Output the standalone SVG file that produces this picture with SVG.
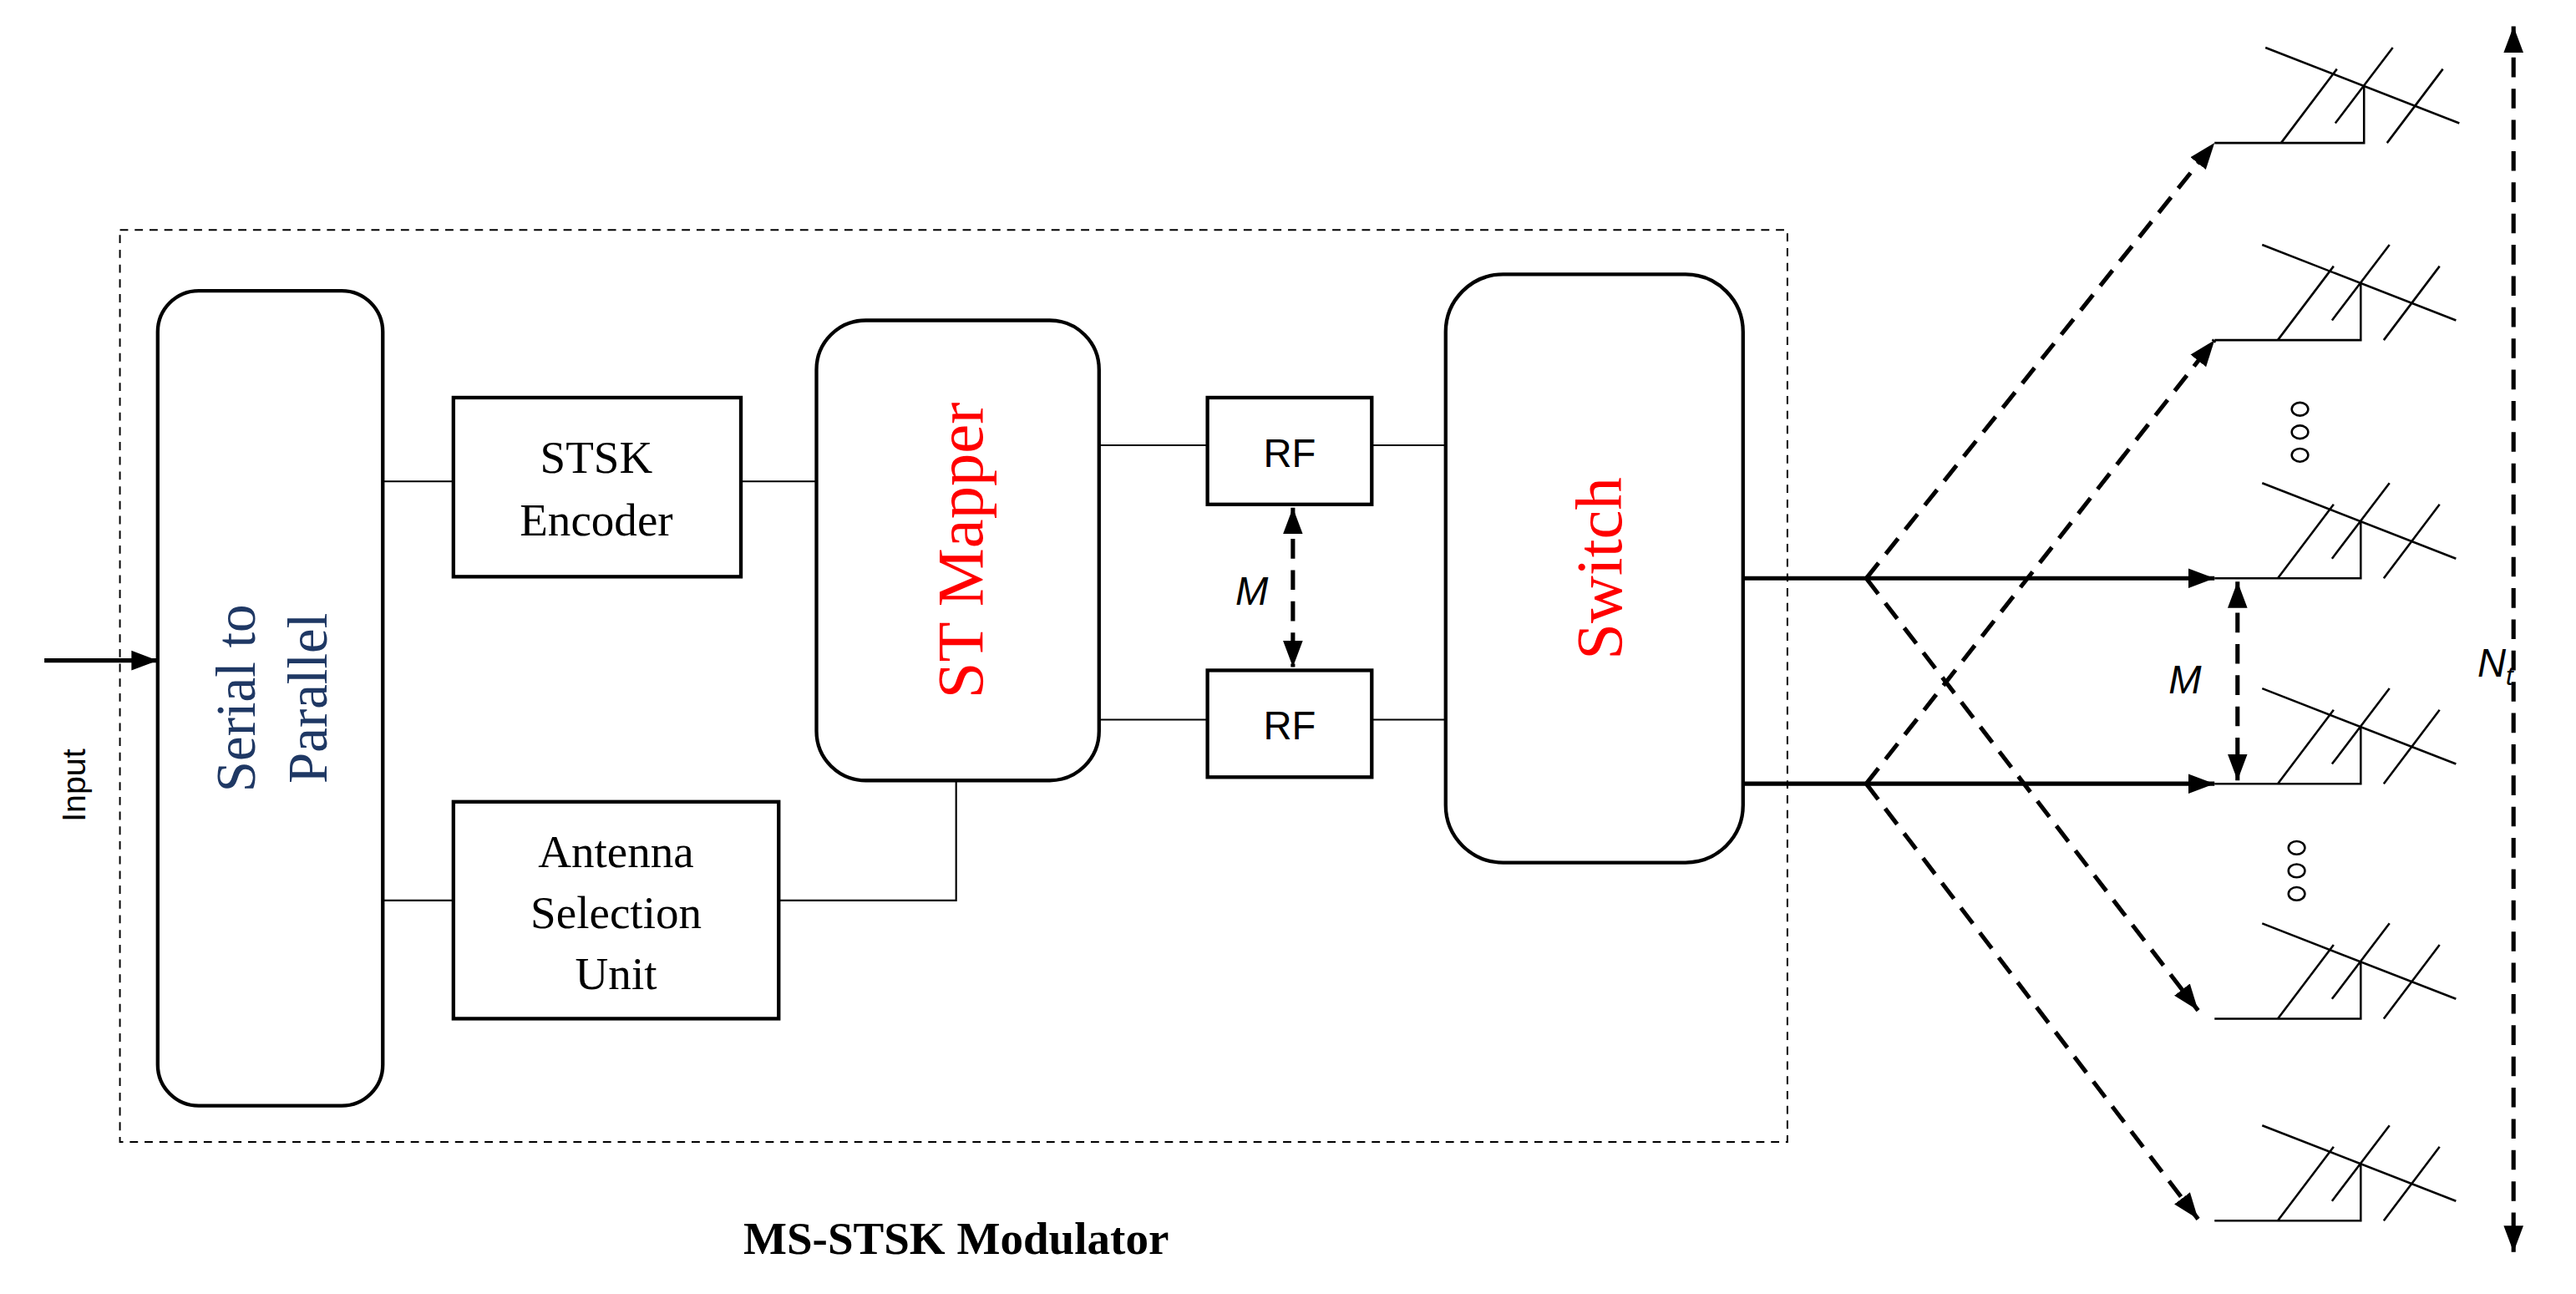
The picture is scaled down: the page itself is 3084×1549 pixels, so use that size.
<svg xmlns="http://www.w3.org/2000/svg" width="3084" height="1549" viewBox="0 0 3084 1549">
<style>
.box{fill:none;stroke:#000;stroke-width:2.2}
.ln{fill:none;stroke:#000;stroke-width:1.1}
.thick{fill:none;stroke:#000;stroke-width:2.6}
.dash{fill:none;stroke:#000;stroke-width:2.6;stroke-dasharray:12,7}
.ant{fill:none;stroke:#000;stroke-width:1.3}
.serif{font-family:"Liberation Serif",serif}
.sans{font-family:"Liberation Sans",sans-serif}
</style>
<defs>
<marker id="ah" markerUnits="userSpaceOnUse" markerWidth="18" markerHeight="14" refX="16" refY="6" orient="auto-start-reverse" viewBox="0 0 18 12"><path d="M0,0 L16,6 L0,12 Z" fill="#000"/></marker>
<g id="antenna">
<line x1="-60" y1="-23" x2="58" y2="23"/>
<line x1="-16.5" y1="-10" x2="-50.5" y2="35"/>
<line x1="17.5" y1="-23" x2="-17.5" y2="23"/>
<line x1="48" y1="-10" x2="14" y2="35"/>
</g>
</defs>
<rect width="3084" height="1549" fill="#fff"/>
<g transform="scale(1.9668)">
<g id="modulator-frame"><rect x="73" y="140" width="1015" height="555" fill="none" stroke="#000" stroke-width="1" stroke-dasharray="5,4"/>
<text x="582" y="763" class="serif" font-size="28" font-weight="bold" text-anchor="middle">MS-STSK Modulator</text></g>
<g id="input"><text transform="translate(52,478) rotate(-90)" class="sans" font-size="20" text-anchor="middle">Input</text></g>
<g id="s2p"><rect class="box" x="96" y="177" width="137" height="496" rx="25"/>
<text transform="translate(155,425) rotate(-90)" class="serif" font-size="34" fill="#1F3864" text-anchor="middle">Serial to</text>
<text transform="translate(199,425) rotate(-90)" class="serif" font-size="34" fill="#1F3864" text-anchor="middle">Parallel</text></g>
<g id="stsk"><rect class="box" x="276" y="242" width="175" height="109"/>
<text x="363" y="288" class="serif" font-size="28" text-anchor="middle">STSK</text>
<text x="363" y="326" class="serif" font-size="28" text-anchor="middle">Encoder</text></g>
<g id="asu"><rect class="box" x="276" y="488" width="198" height="132"/>
<text x="375" y="528" class="serif" font-size="28" text-anchor="middle">Antenna</text>
<text x="375" y="565" class="serif" font-size="28" text-anchor="middle">Selection</text>
<text x="375" y="602" class="serif" font-size="28" text-anchor="middle">Unit</text></g>
<g id="mapper"><rect class="box" x="497" y="195" width="172" height="280" rx="30"/>
<text transform="translate(598,335) rotate(-90)" class="serif" font-size="40" fill="#FF0000" text-anchor="middle">ST Mapper</text></g>
<g id="rf1"><rect class="box" x="735" y="242" width="100" height="65"/><text x="785" y="284" class="sans" font-size="24" text-anchor="middle">RF</text></g>
<g id="rf2"><rect class="box" x="735" y="408" width="100" height="65"/><text x="785" y="450" class="sans" font-size="24" text-anchor="middle">RF</text></g>
<g id="switch"><rect class="box" x="880" y="167" width="181" height="358" rx="35"/>
<text transform="translate(987,346) rotate(-90)" class="serif" font-size="40" fill="#FF0000" text-anchor="middle">Switch</text></g>
<g id="antennas" class="ant">
<use href="#antenna" x="1439" y="52"/><use href="#antenna" x="1437" y="172"/><use href="#antenna" x="1437" y="317"/>
<use href="#antenna" x="1437" y="442"/><use href="#antenna" x="1437" y="585"/><use href="#antenna" x="1437" y="708"/>
<ellipse cx="1400" cy="249" rx="5" ry="4"/><ellipse cx="1400" cy="263" rx="5" ry="4"/><ellipse cx="1400" cy="277" rx="5" ry="4"/>
<ellipse cx="1398" cy="516" rx="5" ry="4"/><ellipse cx="1398" cy="530" rx="5" ry="4"/><ellipse cx="1398" cy="544" rx="5" ry="4"/>
</g>
<g id="labels">
<text x="762" y="368" class="sans" font-size="24" font-style="italic" text-anchor="middle">M</text>
<text x="1330" y="422" class="sans" font-size="24" font-style="italic" text-anchor="middle">M</text>
<text x="1508" y="412" class="sans" font-size="24" font-style="italic">N<tspan font-size="16" dy="5">t</tspan></text>
</g>
<g id="connectors">
<line class="thick" x1="27" y1="402" x2="96" y2="402" stroke-width="2" marker-end="url(#ah)"/>
<path class="ln" d="M233,293 H276 M451,293 H497 M233,548 H276 M474,548 H582 V475 M669,271 H735 M835,271 H880 M669,438 H735 M835,438 H880"/>
<line class="dash" x1="787" y1="309" x2="787" y2="406" stroke-width="2.2" marker-start="url(#ah)" marker-end="url(#ah)"/>
<line class="thick" x1="1061" y1="352" x2="1348" y2="352" marker-end="url(#ah)"/>
<line class="thick" x1="1061" y1="477" x2="1348" y2="477" marker-end="url(#ah)"/>
<line class="dash" x1="1136" y1="352" x2="1348" y2="87" marker-end="url(#ah)"/>
<line class="dash" x1="1136" y1="477" x2="1348" y2="207" marker-end="url(#ah)"/>
<line class="dash" x1="1136" y1="352" x2="1338" y2="615" marker-end="url(#ah)"/>
<line class="dash" x1="1136" y1="477" x2="1338" y2="742" marker-end="url(#ah)"/>
<path class="ant" d="M1348,87 H1439 V52 M1348,207 H1437 V172 M1348,352 H1437 V317 M1348,477 H1437 V442 M1348,620 H1437 V585 M1348,743 H1437 V708"/>
<line class="dash" x1="1362" y1="354" x2="1362" y2="475" stroke-width="2.2" marker-start="url(#ah)" marker-end="url(#ah)"/>
<line class="dash" x1="1530" y1="16" x2="1530" y2="762" marker-start="url(#ah)" marker-end="url(#ah)"/>
</g>
</g>
</svg>
